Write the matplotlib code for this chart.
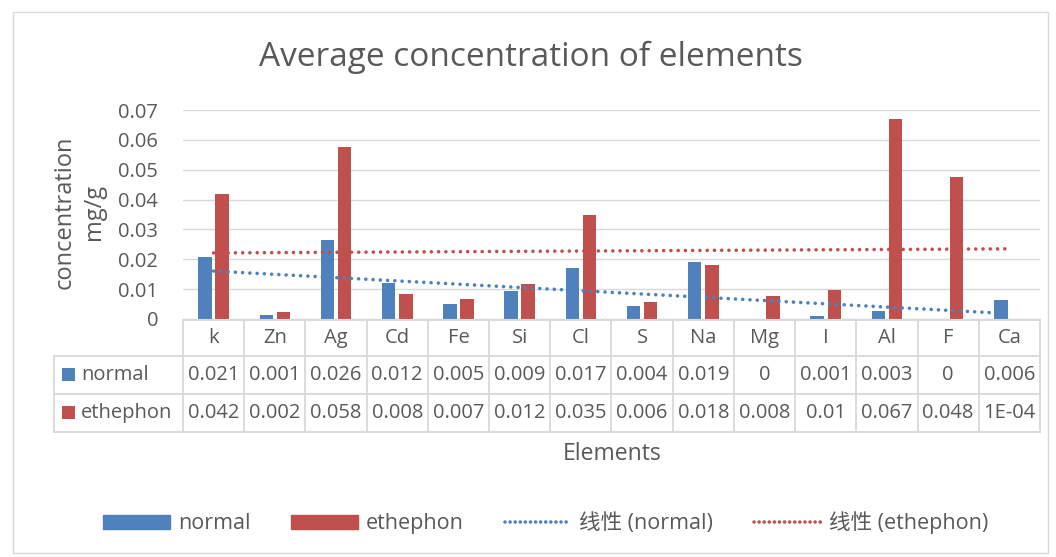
import numpy as np
import matplotlib.pyplot as plt
from matplotlib.patches import Rectangle
from matplotlib.lines import Line2D

plt.rcParams['font.family'] = ['Open Sans', 'Noto Sans CJK SC', 'DejaVu Sans']

elements = ['k', 'Zn', 'Ag', 'Cd', 'Fe', 'Si', 'Cl', 'S', 'Na', 'Mg', 'I', 'Al', 'F', 'Ca']
normal = [0.0207, 0.0012, 0.0263, 0.0119, 0.0051, 0.0093, 0.0170, 0.0043, 0.0192, 0.0,
          0.0011, 0.0026, 0.0, 0.0062]
ethephon = [0.0420, 0.0022, 0.0576, 0.0083, 0.0066, 0.0116, 0.0348, 0.0058, 0.0180, 0.0078,
            0.0098, 0.0671, 0.0477, 0.0001]
yticks = [0, 0.01, 0.02, 0.03, 0.04, 0.05, 0.06, 0.07]
ytick_labels = ['0', '0.01', '0.02', '0.03', '0.04', '0.05', '0.06', '0.07']

blue = '#4F81BD'
red = '#C0504D'
txt = '#595959'
grid = '#D9D9D9'
dots = (0, (0.01, 2.0))


def excel_fmt(v):
    # roughly Excel "General" in a narrow cell
    if v == 0:
        return '0'
    if v < 0.001:
        return '%.0E' % v
    return ('%.3f' % v).rstrip('0').rstrip('.')


fig = plt.figure(figsize=(10.56, 5.57), dpi=100)
fig.patches.append(Rectangle((0.012, 0.007), 0.98, 0.972, transform=fig.transFigure,
                             fill=False, edgecolor='#D9D9D9', linewidth=1))

ax = fig.add_axes([0.1733, 0.4273, 0.8115, 0.3752])
x = np.arange(len(elements))
w = 0.22
ax.bar(x - 0.14, normal, w, color=blue, zorder=2)
ax.bar(x + 0.14, ethephon, w, color=red, zorder=2)

# linear trend lines (Excel style, x = 1..n)
xn = x + 1
for vals, c in [(normal, blue), (ethephon, red)]:
    k, b = np.polyfit(xn, vals, 1)
    ax.plot(x, k * xn + b, linestyle=dots, dash_capstyle='round',
            color=c, linewidth=2.6, zorder=3)

ax.set_xlim(-0.5, len(elements) - 0.5)
ax.set_ylim(0, 0.07)
ax.set_yticks(yticks)
ax.set_yticklabels(ytick_labels, fontsize=14.5, color=txt)
ax.set_xticks([])
ax.tick_params(axis='y', length=0, pad=18)
ax.grid(axis='y', color=grid, linewidth=1, zorder=0)
for s in ['top', 'right', 'left']:
    ax.spines[s].set_visible(False)
ax.spines['bottom'].set_color(grid)

fig.text(531 / 1056, 1 - 57 / 557, 'Average concentration of elements', fontsize=24,
         color=txt, ha='center', va='center')

# data table under the plot
tr = ax.transAxes
ax_h = 209.0
ax_w = 857.0
ax.text((79 - 183) / ax_w, (319 - 212) / ax_h, 'concentration\nmg/g', transform=tr,
        rotation=90, ha='center', va='center', fontsize=17, color=txt, linespacing=1.3)

rows = [(318 - 319) / ax_h, (319 - 356) / ax_h, (319 - 394) / ax_h, (319 - 432) / ax_h]
left = (54 - 183) / ax_w
n = len(elements)
lc = dict(color=grid, linewidth=1.3, transform=tr, clip_on=False)
ax.add_line(Line2D([0, 1], [rows[0], rows[0]], **lc))
for r in rows[1:]:
    ax.add_line(Line2D([left, 1], [r, r], **lc))
for i in range(n + 1):
    ax.add_line(Line2D([i / n, i / n], [rows[0], rows[3]], **lc))
ax.add_line(Line2D([left, left], [rows[1], rows[3]], **lc))

centers = [(rows[i] + rows[i + 1]) / 2 for i in range(3)]
for i, e in enumerate(elements):
    cx = (i + 0.5) / n
    ax.text(cx, centers[0], e, transform=tr, ha='center', va='center', fontsize=14.5, color=txt)
    ax.text(cx, centers[1], excel_fmt(normal[i]), transform=tr, ha='center', va='center',
            fontsize=14.5, color=txt)
    ax.text(cx, centers[2], excel_fmt(ethephon[i]), transform=tr, ha='center', va='center',
            fontsize=14.5, color=txt)

sq_w = 13 / ax_w
sq_h = 13 / ax_h
for name, c, cy in [('normal', blue, centers[1]), ('ethephon', red, centers[2])]:
    ax.add_patch(Rectangle(((62 - 183) / ax_w, cy - sq_h / 2), sq_w, sq_h, facecolor=c,
                           transform=tr, clip_on=False))
    ax.text((81 - 183) / ax_w, cy, name, transform=tr, ha='left', va='center',
            fontsize=14.5, color=txt)

ax.text(0.5006, (319 - 454) / ax_h, 'Elements', transform=tr, ha='center', va='center',
        fontsize=16.5, color=txt)

handles = [Rectangle((0, 0), 1, 1, color=blue), Rectangle((0, 0), 1, 1, color=red),
           Line2D([], [], color=blue, linestyle=(0, (0.01, 1.4)), dash_capstyle='round',
                  linewidth=2.6),
           Line2D([], [], color=red, linestyle=(0, (0.01, 1.4)), dash_capstyle='round',
                  linewidth=2.6)]
labels = ['normal', 'ethephon', '线性 (normal)', '线性 (ethephon)']
leg = fig.legend(handles, labels, loc='center', bbox_to_anchor=(0.5166, 0.061), ncol=4,
                 frameon=False, fontsize=15.5, handlelength=3.1, handleheight=0.6,
                 handletextpad=0.37, columnspacing=1.9)
for t in leg.get_texts():
    t.set_color(txt)

fig.savefig('out.png', dpi=100)
